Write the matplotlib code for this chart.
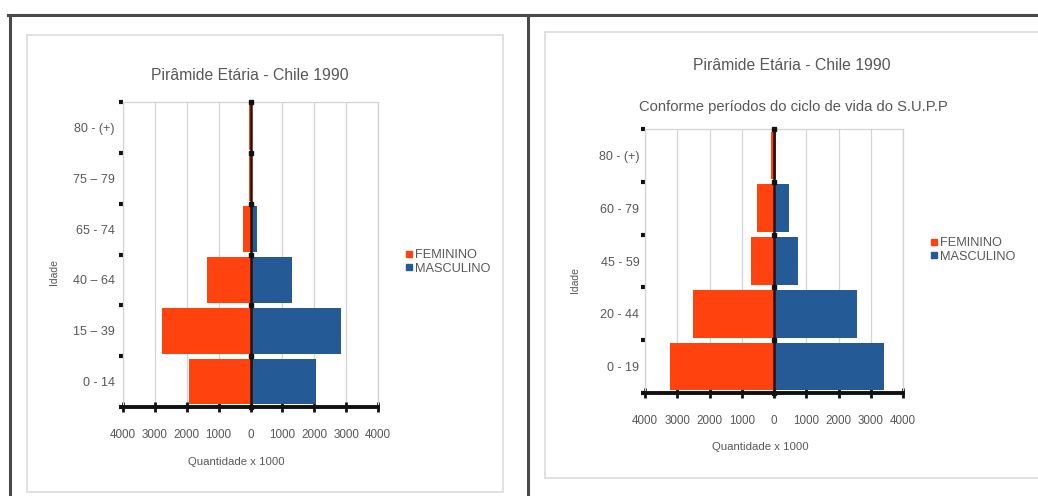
import numpy as np
import matplotlib
matplotlib.use("Agg")
import matplotlib.pyplot as plt
from matplotlib.patches import Rectangle
from matplotlib.lines import Line2D
from matplotlib.ticker import FuncFormatter, FixedLocator

plt.rcParams['font.family'] = ['Liberation Sans', 'DejaVu Sans']

# ---- data (population in thousands) ----
title = "Pirâmide Etária - Chile 1990"
subtitle_right = "Conforme períodos do ciclo de vida do S.U.P.P"
series_names = ["FEMININO", "MASCULINO"]

ages_left = ["0 - 14", "15 – 39", "40 – 64", "65 - 74", "75 – 79", "80 - (+)"]
fem_left = [1940, 2780, 1370, 220, 60, 50]
masc_left = [2070, 2850, 1290, 200, 45, 35]

ages_right = ["0 - 19", "20 - 44", "45 - 59", "60 - 79", "80 - (+)"]
fem_right = [3230, 2510, 720, 530, 90]
masc_right = [3410, 2570, 750, 470, 60]

x_ticks = [-4000, -3000, -2000, -1000, 0, 1000, 2000, 3000, 4000]

FEM_COLOR = "#ff420e"
MASC_COLOR = "#245a96"
TEXT_COLOR = "#585858"

W, H = 1038, 496
fig = plt.figure(figsize=(W / 100, H / 100), dpi=100)
fig.patch.set_facecolor("white")


def fx(x):
    return x / W


def fy(y):
    return 1 - y / H


def axes_px(x0, y0, x1, y1):
    ax = fig.add_axes([fx(x0), fy(y1), (x1 - x0) / W, (y1 - y0) / H])
    ax.set_zorder(2)
    return ax


# page frame and chart boxes
for (x0, y0, x1, y1) in [(27, 35, 503, 492), (545, 32, 1045, 478)]:
    fig.patches.append(Rectangle((fx(x0), fy(y1)), (x1 - x0) / W, (y1 - y0) / H,
                                 transform=fig.transFigure, facecolor="white",
                                 edgecolor="#dcdcdc", lw=1.2, zorder=-1))
fig.lines.append(Line2D([fx(8), fx(1038)], [fy(15), fy(15)], transform=fig.transFigure,
                        color="#4a4a4a", lw=2.2))
fig.lines.append(Line2D([fx(10), fx(10)], [fy(15), fy(496)], transform=fig.transFigure,
                        color="#4a4a4a", lw=2.2))
fig.lines.append(Line2D([fx(527.5), fx(527.5)], [fy(15), fy(496)], transform=fig.transFigure,
                        color="#4a4a4a", lw=2.2))


def pyramid(ax, ages, fem, masc, ylab_pad):
    n = len(ages)
    pos = np.arange(n)
    ax.barh(pos, -np.asarray(fem), height=0.9, color=FEM_COLOR, zorder=2,
            label=series_names[0])
    ax.barh(pos, np.asarray(masc), height=0.9, color=MASC_COLOR, zorder=2,
            label=series_names[1])
    ax.set_xlim(x_ticks[0], x_ticks[-1])
    ax.set_ylim(-0.5, n - 0.5)
    ax.xaxis.set_major_locator(FixedLocator(x_ticks))
    ax.xaxis.set_major_formatter(FuncFormatter(lambda v, p: f"{abs(int(v))}"))
    ax.grid(axis="x", color="#d4d4d4", lw=0.9, zorder=0)
    ax.set_axisbelow(True)

    # category labels centred, tick marks at the boundaries
    ax.set_yticks(pos)
    ax.set_yticklabels(ages)
    ax.tick_params(axis="y", length=0, pad=ylab_pad, labelsize=9, labelcolor=TEXT_COLOR)
    bounds = np.arange(n + 1) - 0.5
    ax.set_yticks(bounds, minor=True)
    ax.tick_params(axis="y", which="minor", length=3, width=3, color="#111111",
                   direction="out")

    ax.tick_params(axis="x", direction="inout", length=7, width=2, color="#111111",
                   labelsize=8.4, labelcolor=TEXT_COLOR, pad=12)
    for side in ("top", "right", "left"):
        ax.spines[side].set_color("#d4d4d4")
        ax.spines[side].set_linewidth(0.9)
    ax.spines["bottom"].set_color("#111111")
    ax.spines["bottom"].set_linewidth(2.8)
    ax.spines["bottom"].set_zorder(4)

    # vertical axis through zero with boundary markers
    ax.axvline(0, color="#2a1208", lw=1.8, zorder=3)
    ax.plot(np.zeros(n + 1), bounds, "s", color="#111111", ms=3.5, zorder=4,
            clip_on=False)


# left chart
axL = axes_px(123, 102, 378, 407)
pyramid(axL, ages_left, fem_left, masc_left, ylab_pad=6)
fig.text(fx(250), fy(75), title, ha="center", va="center", fontsize=11.3, color=TEXT_COLOR)
fig.text(fx(236), fy(462), "Quantidade x 1000", ha="center", va="center", fontsize=8.2,
         color=TEXT_COLOR)
fig.text(fx(54), fy(272), "Idade", ha="center", va="center", rotation=90, fontsize=7.5,
         color=TEXT_COLOR)

# right chart
axR = axes_px(645, 129, 903, 393)
pyramid(axR, ages_right, fem_right, masc_right, ylab_pad=4)
fig.text(fx(792), fy(65), title, ha="center", va="center", fontsize=11.3, color=TEXT_COLOR)
fig.text(fx(793), fy(107), subtitle_right, ha="center", va="center", fontsize=10.6,
         color=TEXT_COLOR)
fig.text(fx(760), fy(447), "Quantidade x 1000", ha="center", va="center", fontsize=8.2,
         color=TEXT_COLOR)
fig.text(fx(575), fy(280), "Idade", ha="center", va="center", rotation=90, fontsize=7.5,
         color=TEXT_COLOR)

# legends
for (lx, ly) in [(406, 249), (931, 237)]:
    handles = [Line2D([], [], marker="s", ls="", color=c, ms=4.5)
               for c in (FEM_COLOR, MASC_COLOR)]
    fig.legend(handles, series_names, loc="upper left",
               bbox_to_anchor=(fx(lx), fy(ly)), frameon=False, fontsize=9.2,
               handlelength=0.5, handletextpad=0.2, labelspacing=0.15,
               borderpad=0, borderaxespad=0, labelcolor=TEXT_COLOR)

fig.savefig("out.png", dpi=100)
